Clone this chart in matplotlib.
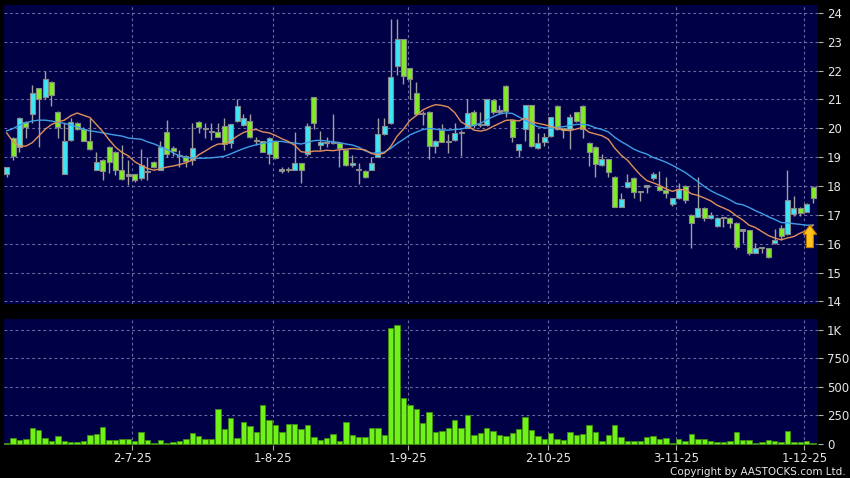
import numpy as np
import pandas as pd
import matplotlib
matplotlib.use("Agg")
import matplotlib.pyplot as plt
from matplotlib.patches import FancyArrow

# ---------------- data ----------------
opens = [18.43, 19.67, 19.36, 20.22, 20.48, 21.38, 21.07, 21.61, 20.57, 18.41,
         19.59, 20.17, 19.99, 19.57, 18.57, 18.90, 19.36, 19.18, 18.55, 18.38,
         18.40, 18.26, 18.50, 18.84, 18.57, 19.88, 19.33, 19.05, 19.05, 18.90,
         20.22, 20.00, 19.88, 19.88, 20.09, 19.50, 20.25, 20.11, 20.26, 19.57,
         19.55, 19.10, 19.55, 18.55, 18.57, 18.57, 18.78, 19.10, 21.07, 19.42,
         19.50, 19.50, 19.50, 19.24, 18.72, 18.58, 18.53, 18.57, 19.01, 19.80,
         20.17, 22.15, 23.08, 22.07, 21.23, 20.52, 20.57, 19.38, 19.94, 19.55,
         19.59, 19.85, 20.02, 20.57, 20.13, 20.11, 20.97, 20.60, 21.47, 20.28,
         19.24, 19.97, 20.80, 19.30, 19.51, 19.73, 20.78, 20.00, 19.97, 20.55,
         20.78, 19.50, 19.36, 18.72, 18.93, 18.32, 17.28, 17.95, 18.28, 17.80,
         18.00, 18.26, 18.00, 17.86, 17.37, 17.57, 18.00, 17.01, 16.93, 17.24,
         16.88, 16.61, 16.90, 16.90, 16.72, 16.47, 16.47, 15.69, 15.86, 15.84,
         16.01, 16.53, 16.33, 17.03, 17.24, 17.11, 17.97]
highs = [18.67, 19.70, 20.38, 20.25, 21.49, 21.40, 21.98, 21.63, 20.60, 20.17,
         20.34, 20.20, 20.05, 20.34, 19.18, 18.92, 19.38, 19.20, 19.42, 18.90,
         18.42, 19.27, 19.01, 18.86, 19.57, 20.28, 19.40, 19.25, 19.07, 20.17,
         20.25, 20.17, 20.17, 20.17, 20.34, 20.15, 21.03, 20.49, 20.49, 19.70,
         19.57, 19.69, 19.57, 18.65, 18.67, 19.88, 18.80, 20.17, 21.09, 19.91,
         19.70, 20.49, 19.52, 19.26, 19.07, 18.78, 18.55, 19.01, 20.34, 20.34,
         23.80, 23.77, 23.10, 22.10, 21.61, 20.60, 20.59, 19.59, 20.14, 19.80,
         20.19, 19.93, 21.00, 20.62, 20.57, 21.02, 21.03, 20.80, 21.49, 20.30,
         19.46, 20.82, 20.82, 19.82, 19.85, 20.40, 20.80, 20.02, 20.51, 20.57,
         20.80, 19.52, 19.38, 19.09, 18.95, 18.34, 17.76, 18.41, 18.30, 17.82,
         18.02, 18.49, 18.51, 18.30, 17.59, 18.09, 18.05, 17.03, 18.30, 17.26,
         17.10, 16.93, 16.92, 16.92, 16.74, 16.49, 16.49, 16.01, 15.88, 15.86,
         16.51, 16.65, 18.57, 17.65, 17.26, 17.42, 17.99]
lows = [18.32, 18.90, 19.18, 19.65, 20.17, 19.36, 21.00, 20.77, 19.65, 18.41,
        19.55, 19.95, 19.55, 19.25, 18.55, 18.20, 18.46, 18.38, 18.20, 18.03,
        18.15, 18.20, 18.20, 18.62, 18.55, 19.01, 19.05, 18.67, 18.67, 18.72,
        19.82, 19.65, 19.59, 19.68, 19.24, 19.33, 20.23, 20.09, 19.66, 19.42,
        19.16, 18.75, 18.95, 18.45, 18.50, 18.55, 18.11, 19.04, 19.99, 19.24,
        19.36, 19.47, 18.67, 18.70, 18.65, 18.06, 18.28, 18.55, 18.99, 19.78,
        20.15, 21.85, 21.55, 21.00, 20.46, 20.10, 18.95, 19.13, 19.51, 19.13,
        19.57, 19.03, 20.00, 20.00, 20.03, 20.09, 20.50, 20.50, 20.40, 19.51,
        18.99, 19.57, 19.36, 19.28, 19.40, 19.71, 19.95, 19.65, 19.27, 20.23,
        19.65, 18.69, 18.30, 18.70, 18.32, 17.26, 17.26, 17.93, 17.59, 17.48,
        17.76, 18.20, 17.84, 17.57, 17.32, 17.55, 17.42, 15.85, 16.91, 16.79,
        16.86, 16.59, 16.59, 16.53, 15.80, 16.01, 15.61, 15.67, 15.66, 15.49,
        15.99, 16.12, 16.31, 16.96, 16.96, 17.09, 17.42]
closes = [18.67, 19.03, 20.36, 20.03, 21.23, 21.00, 21.69, 21.14, 20.05, 19.57,
          20.22, 19.99, 19.57, 19.27, 18.84, 18.53, 18.84, 18.57, 18.23, 18.38,
          18.20, 18.72, 18.50, 18.64, 19.36, 19.10, 19.22, 19.05, 18.87, 19.30,
          20.03, 20.00, 19.88, 19.70, 19.47, 20.13, 20.78, 20.34, 19.68, 19.57,
          19.18, 19.67, 18.97, 18.55, 18.57, 18.78, 18.55, 20.09, 20.17, 19.53,
          19.50, 19.50, 19.33, 18.72, 18.79, 18.58, 18.30, 18.78, 19.79, 20.09,
          21.76, 23.08, 21.81, 21.69, 20.48, 20.52, 19.38, 19.57, 19.53, 19.55,
          19.82, 19.85, 20.54, 20.11, 20.13, 21.00, 20.55, 20.60, 20.59, 19.70,
          19.44, 20.80, 19.38, 19.50, 19.68, 20.38, 19.97, 19.93, 20.40, 20.25,
          19.96, 19.18, 18.75, 18.93, 18.47, 17.28, 17.55, 18.15, 17.78, 17.80,
          18.00, 18.40, 17.86, 17.74, 17.57, 17.91, 17.51, 16.70, 17.24, 16.90,
          17.01, 16.90, 16.90, 16.72, 15.89, 16.47, 15.69, 15.86, 15.86, 15.55,
          16.12, 16.28, 17.53, 17.24, 17.08, 17.36, 17.57]
volumes = [9, 47, 32, 38, 135, 120, 47, 23, 67, 23,
           12, 15, 21, 79, 85, 150, 35, 32, 41, 41,
           23, 100, 35, 6, 29, 6, 12, 23, 38, 97,
           65, 38, 38, 302, 132, 223, 53, 194, 155, 100,
           340, 211, 161, 106, 170, 170, 129, 161, 59, 32,
           47, 88, 21, 191, 73, 62, 62, 138, 138, 73,
           1015, 1041, 399, 340, 302, 182, 282, 103, 114, 135,
           208, 135, 249, 73, 94, 135, 114, 73, 70, 94,
           129, 235, 123, 70, 38, 91, 41, 32, 103, 76,
           82, 161, 100, 26, 73, 161, 56, 26, 21, 26,
           62, 70, 41, 47, 9, 44, 21, 82, 44, 41,
           21, 12, 12, 21, 100, 29, 29, 6, 12, 29,
           21, 18, 108, 15, 15, 23, 5]
ma10_head = [19.84, 19.53, 19.38, 19.38, 19.50, 19.73, 19.96, 20.13, 20.22]
ma20_head = [19.91, 19.99, 20.11, 20.19, 20.25, 20.28, 20.28, 20.25, 20.20, 20.17,
             20.11, 20.05, 19.96, 19.91, 19.88, 19.84, 19.80, 19.76, 19.73]
date_labels = ["2-7-25", "1-8-25", "1-9-25", "2-10-25", "3-11-25", "1-12-25"]
date_candle = [20, 42, 63, 85, 105, 125]
price_ticks = [14, 15, 16, 17, 18, 19, 20, 21, 22, 23, 24]
vol_ticks = [0, 250, 500, 750, 1000]
vol_tick_labels = ["0", "250", "500", "750", "1K"]

# ---------------- styling ----------------
BG = "#000046"
GRID = "#6a6aa0"
UP = "#3ee6f4"
DOWN = "#80ec24"
DOJI = "#9a9a9a"
WICK = "#a0a0a0"
TXT = "#e6e6e6"

o = np.array(opens); h = np.array(highs); l = np.array(lows); c = np.array(closes)
n = len(c)
x = np.arange(n)

close_s = pd.Series(c)
ma10 = close_s.rolling(10).mean().to_numpy()
ma10[:len(ma10_head)] = ma10_head
ma20 = close_s.rolling(20).mean().to_numpy()
ma20[:len(ma20_head)] = ma20_head

fig = plt.figure(figsize=(8.5, 4.78), dpi=100, facecolor="black")
W, H = 850.0, 478.0
ax = fig.add_axes([4 / W, 1 - 304 / H, 814 / W, 299 / H])
axv = fig.add_axes([4 / W, 1 - 444.5 / H, 814 / W, 125.5 / H])

xlim = (-0.42, 126.77)
grid_x = [d - 0.35 for d in date_candle]

for a in (ax, axv):
    a.set_facecolor(BG)
    for s in a.spines.values():
        s.set_visible(False)
    a.set_xlim(*xlim)
    a.set_axisbelow(True)
    for gx in grid_x:
        a.axvline(gx, color=GRID, lw=0.8, ls=(0, (2.5, 2.5)), zorder=0)
    a.yaxis.tick_right()
    a.tick_params(axis="y", colors="#b0b0b0", labelcolor=TXT, labelsize=8.5,
                  length=3.5, width=0.8, pad=3)

# price panel
ax.set_ylim(13.91, 24.27)
ax.set_yticks(price_ticks)
ax.set_yticklabels([str(t) for t in price_ticks])
for t in price_ticks:
    ax.axhline(t, color=GRID, lw=0.8, ls=(0, (2.5, 2.5)), zorder=0)
ax.set_xticks([])

colors = np.where(c > o, UP, np.where(c < o, DOWN, DOJI))
ax.vlines(x, l, h, color=WICK, lw=1.0, zorder=2)
body_h = np.maximum(np.abs(c - o), 0.045)
body_b = np.where(np.abs(c - o) < 0.045, (o + c) / 2 - 0.0225, np.minimum(o, c))
ax.bar(x, body_h, bottom=body_b, width=0.78, color=colors, edgecolor="#8a8a8a",
       linewidth=0.8, zorder=3)

ax.plot(x, ma20, color="#3f9fe6", lw=1.0, zorder=4)
ax.plot(x, ma10, color="#e0905a", lw=1.0, zorder=4)

# signal arrow under the last moving-average point
tip = ma10[-1]
ax.add_patch(FancyArrow(n - 1.5, tip - 0.78, 0, 0.78, width=1.1, head_width=2.1,
                        head_length=0.32, length_includes_head=True,
                        facecolor="#ffc21a", edgecolor="#c07a00", linewidth=0.8,
                        zorder=5))

# volume panel
axv.set_ylim(-7, 1097)
axv.set_yticks(vol_ticks)
axv.set_yticklabels(vol_tick_labels)
for t in vol_ticks[1:]:
    axv.axhline(t, color=GRID, lw=0.8, ls=(0, (2.5, 2.5)), zorder=0)
axv.bar(x, volumes, width=0.85, color="#70f218", edgecolor="#3f8f10",
        linewidth=0.6, zorder=3)
axv.set_xticks(grid_x)
axv.set_xticklabels(date_labels)
axv.tick_params(axis="x", colors="#b0b0b0", labelcolor=TXT, labelsize=8.5,
                length=3.5, width=0.8, pad=2)

fig.text(0.995, 0.013, "Copyright by AASTOCKS.com Ltd.", ha="right", va="center",
         color=TXT, fontsize=7.5)

fig.savefig("out.png", dpi=100, facecolor="black")
